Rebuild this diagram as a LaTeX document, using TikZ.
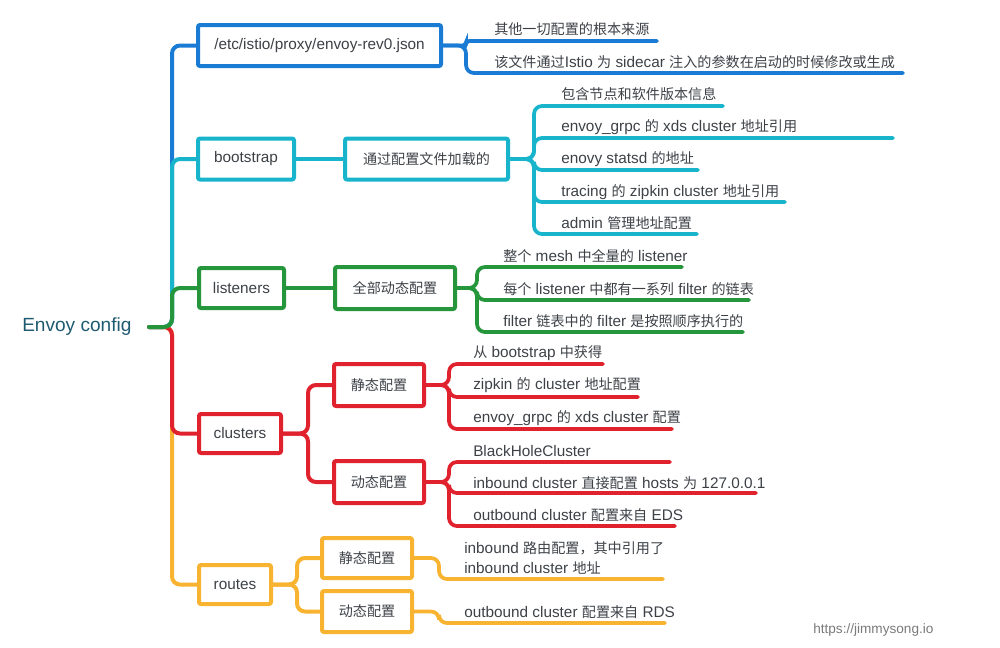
\documentclass[tikz,border=0pt]{standalone}
\usepackage{fontspec}
\setmainfont{Liberation Sans}
\newfontfamily\cjkfont[Scale=0.92]{Noto Sans CJK SC}
\newcommand{\zhtext}[1]{{\cjkfont #1}}
\definecolor{cblue}{HTML}{1A7BD4}
\definecolor{ccyan}{HTML}{17B4CC}
\definecolor{cgreen}{HTML}{25963B}
\definecolor{cred}{HTML}{E0222F}
\definecolor{cyellow}{HTML}{F8B330}
\definecolor{ctext}{HTML}{3D4146}
\definecolor{croot}{HTML}{1F5B70}
\definecolor{cmark}{HTML}{7A7A7A}
\begin{document}
\begin{tikzpicture}[x=0.75pt,y=-0.75pt,
  box/.style={draw, line width=3pt, rounded corners=1.5pt, fill=white, text=ctext,
    font=\fontsize{11.5}{14}\selectfont, inner sep=0pt, minimum height=41*0.75pt},
  leaf/.style={anchor=west, inner sep=0pt, text=ctext, font=\fontsize{11.5}{15}\selectfont},
  link/.style={line width=3pt, line cap=round, rounded corners=6pt},
  uline/.style={line width=2.8pt, line cap=round, rounded corners=6pt}]
\useasboundingbox (0,0) rectangle (1000,647);

% root
\node[anchor=west, inner sep=0pt, text=croot, font=\fontsize{14.3}{17}\selectfont] (root) at (22,327) {Envoy config};
\coordinate (rootout) at (149,327);

% level-1 boxes
\node[box, draw=cblue, minimum width=243*0.75pt] (json) at (319.5,45.5) {/etc/istio/proxy/envoy-rev0.json};
\node[box, draw=ccyan, minimum width=96*0.75pt] (boot) at (246,159) {bootstrap};
\node[box, draw=cgreen, minimum width=85*0.75pt, minimum height=40*0.75pt] (lis) at (241.5,288) {listeners};
\node[box, draw=cred, minimum width=82*0.75pt, minimum height=39*0.75pt] (clu) at (240,433.5) {clusters};
\node[box, draw=cyellow, minimum width=72*0.75pt, minimum height=39*0.75pt] (rou) at (235,584.5) {routes};

% level-2 boxes
\node[box, draw=ccyan, minimum width=163*0.75pt] (load) at (426.5,159) {\zhtext{通过配置文件加载的}};
\node[box, draw=cgreen, minimum width=120*0.75pt, minimum height=42*0.75pt] (ldyn) at (395,288) {\zhtext{全部动态配置}};
\node[box, draw=cred, minimum width=90*0.75pt, minimum height=42*0.75pt] (cst) at (379,385) {\zhtext{静态配置}};
\node[box, draw=cred, minimum width=90*0.75pt, minimum height=42*0.75pt] (cdy) at (379,482) {\zhtext{动态配置}};
\node[box, draw=cyellow, minimum width=90*0.75pt, minimum height=40*0.75pt] (rst) at (367,558) {\zhtext{静态配置}};
\node[box, draw=cyellow, minimum width=90*0.75pt, minimum height=41*0.75pt] (rdy) at (367,611.5) {\zhtext{动态配置}};

% trunk
\draw[link, cblue] (rootout) -- ++(23,0) |- (json.west);
\draw[link, ccyan] (rootout) -- ++(23,0) |- (boot.west);
\draw[link, cyellow] (rootout) -- ++(23,0) |- (rou.west);
\draw[link, cred] (rootout) -- ++(23,0) |- (clu.west);
\draw[link, cgreen] (rootout) -- ++(23,0) |- (lis.west);

% level-1 to level-2
\draw[link, ccyan] (boot.east) -- (load.west);
\draw[link, cgreen] (lis.east) -- (ldyn.west);
\draw[link, cred] (clu.east) -- ++(25,0) |- (cst.west);
\draw[link, cred] (clu.east) -- ++(25,0) |- (cdy.west);
\draw[link, cyellow] (rou.east) -- ++(24,0) |- (rst.west);
\draw[link, cyellow] (rou.east) -- ++(24,0) |- (rdy.west);

% json leaves
\coordinate (ja) at (657,41); \coordinate (jb) at (903,73);
\node[leaf] (jta) at (494,29) {\zhtext{其他一切配置的根本来源}};
\node[leaf] (jtb) at (494,62) {\zhtext{该文件通过}Istio \zhtext{为} sidecar \zhtext{注入的参数在启动的时候修改或生成}};
\draw[uline, cblue, rounded corners=2.5pt] (json.east) -- ++(23,0) |- (ja);
\draw[uline, cblue] (json.east) -- ++(23,0) |- (jb);

% bootstrap leaves
\coordinate (ba) at (723,106); \coordinate (bb) at (893,138); \coordinate (bc) at (698,170);
\coordinate (bd) at (785,202); \coordinate (be) at (697,234);
\node[leaf] (bta) at (561,94) {\zhtext{包含节点和软件版本信息}};
\node[leaf] (btb) at (561,127) {envoy\_grpc \zhtext{的} xds cluster \zhtext{地址引用}};
\node[leaf] (btc) at (561,159) {enovy statsd \zhtext{的地址}};
\node[leaf] (btd) at (561,192) {tracing \zhtext{的} zipkin cluster \zhtext{地址引用}};
\node[leaf] (bte) at (561,223) {admin \zhtext{管理地址配置}};
\foreach \e in {ba,bb,bc,bd,be}
  \draw[uline, ccyan] (load.east) -- ++(24,0) |- (\e);

% listeners leaves
\coordinate (la) at (682,267); \coordinate (lb) at (749,300); \coordinate (lc) at (743,332);
\node[leaf] (lta) at (503,256) {\zhtext{整个} mesh \zhtext{中全量的} listener};
\node[leaf] (ltb) at (503,289) {\zhtext{每个} listener \zhtext{中都有一系列} filter \zhtext{的链表}};
\node[leaf] (ltc) at (503,321) {filter \zhtext{链表中的} filter \zhtext{是按照顺序执行的}};
\foreach \e in {la,lb,lc}
  \draw[uline, cgreen] (ldyn.east) -- ++(20,0) |- (\e);

% clusters static leaves
\coordinate (sa) at (603,364); \coordinate (sb) at (638,397); \coordinate (sc) at (672,429);
\node[leaf] (sta) at (473,353) {\zhtext{从} bootstrap \zhtext{中获得}};
\node[leaf] (stb) at (473,385) {zipkin \zhtext{的} cluster \zhtext{地址配置}};
\node[leaf] (stc) at (473,418) {envoy\_grpc \zhtext{的} xds cluster \zhtext{配置}};
\foreach \e in {sa,sb,sc}
  \draw[uline, cred] (cst.east) -- ++(23,0) |- (\e);

% clusters dynamic leaves
\coordinate (da) at (670,462); \coordinate (db) at (756,493); \coordinate (dc) at (675,526);
\node[leaf] (dta) at (473,451) {BlackHoleCluster};
\node[leaf] (dtb) at (473,483) {inbound cluster \zhtext{直接配置} hosts \zhtext{为} 127.0.0.1};
\node[leaf] (dtc) at (473,515) {outbound cluster \zhtext{配置来自} EDS};
\foreach \e in {da,db,dc}
  \draw[uline, cred] (cdy.east) -- ++(23,0) |- (\e);

% routes leaves
\coordinate (ra) at (663,579); \coordinate (rb) at (665,623);
\node[leaf, align=left, font=\fontsize{11.5}{15}\selectfont] (rta) at (464,558) {inbound \zhtext{路由配置，其中引用了}\\inbound cluster \zhtext{地址}};
\node[leaf] (rtb) at (464,612) {outbound cluster \zhtext{配置来自} RDS};
\draw[uline, cyellow] (rst.east) -- ++(25,0) |- (ra);
\draw[uline, cyellow] (rdy.east) -- ++(25,0) |- (rb);

% watermark
\node[anchor=west, inner sep=0pt, text=cmark, font=\fontsize{10.2}{12}\selectfont] (mark) at (813,630) {https://jimmysong.io};
\end{tikzpicture}
\end{document}
